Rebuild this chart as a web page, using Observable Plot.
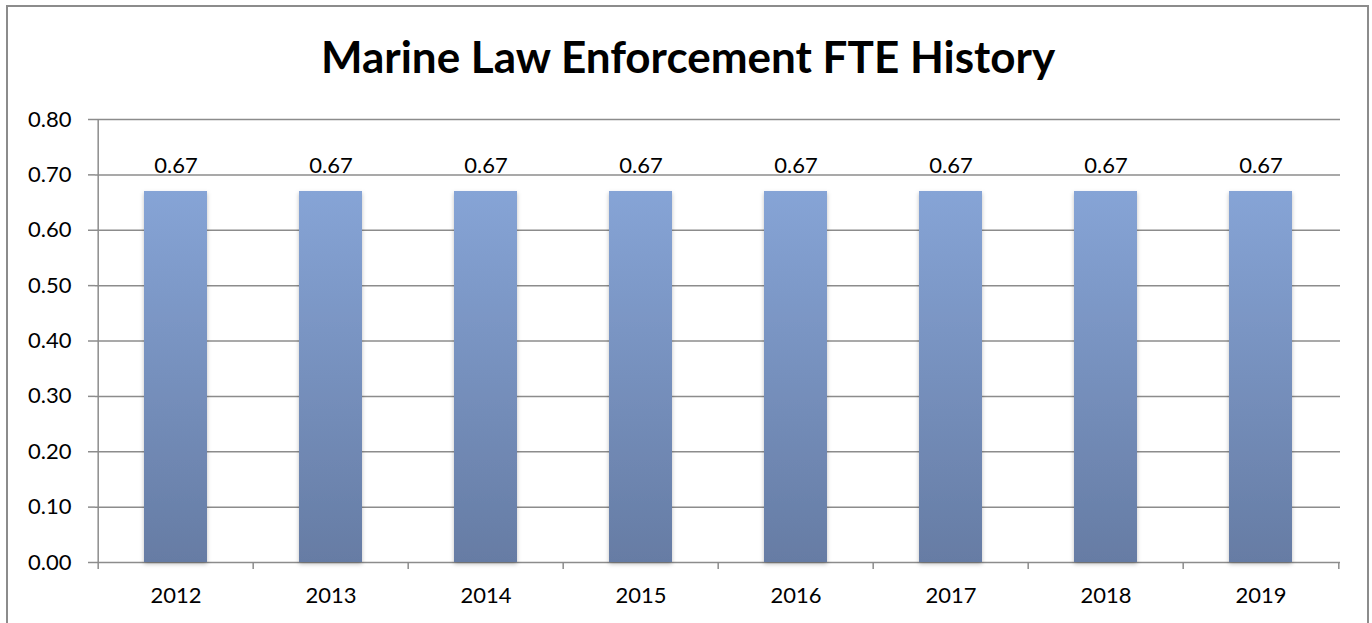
<!DOCTYPE html>
<html>
<head>
<meta charset="utf-8">
<script src="https://cdn.jsdelivr.net/npm/d3@7"></script>
<script src="https://cdn.jsdelivr.net/npm/@observablehq/plot@0.6"></script>
<style>
  html, body { margin: 0; padding: 0; background: #fff; overflow: hidden; }
  body { width: 1372px; height: 623px; position: relative; font-family: Lato, "Open Sans", sans-serif; }
  #frame { position: absolute; left: 6px; top: 5px; width: 1363px; height: 640px; border: 2px solid #8c8c8c; box-sizing: border-box; }
  #title { position: absolute; left: 0; width: 1376px; top: 28px; text-align: center; font-size: 44px; font-weight: bold; color: #000; line-height: 56px; }
  #chart { position: absolute; left: 0; top: 100px; }
</style>
</head>
<body>
<div id="frame"></div>
<div id="title">Marine Law Enforcement FTE History</div>
<div id="chart"></div>
<script>
const years = ["2012", "2013", "2014", "2015", "2016", "2017", "2018", "2019"];
const fte = [0.67, 0.67, 0.67, 0.67, 0.67, 0.67, 0.67, 0.67];
const yTicks = [0, 0.1, 0.2, 0.3, 0.4, 0.5, 0.6, 0.7, 0.8];

const data = years.map((y, i) => ({year: y, value: fte[i]}));

const W = 1372, ML = 95, MR = 32, MT = 19, MB = 50, H = 512;
const step = (W - ML - MR) / years.length;
const grid = "#8c8c8c";
const FS = 22;

const chart = Plot.plot({
  width: W,
  height: H,
  marginLeft: ML,
  marginRight: MR,
  marginTop: MT,
  marginBottom: MB,
  style: {fontFamily: "Lato, 'Open Sans', sans-serif", fontSize: FS + "px", color: "#000", background: "transparent"},
  x: {domain: years, paddingInner: 0.595, paddingOuter: 0.2975, label: null},
  y: {domain: [0, 0.8], label: null},
  marks: [
    Plot.ruleY(yTicks, {stroke: grid, strokeWidth: 1.5, strokeOpacity: 1}),
    Plot.barY(data, {x: "year", y: "value", fill: "url(#barGrad)", className: "bars"}),
    Plot.text(data, {x: "year", y: "value", text: d => d.value.toFixed(2), dy: -18, lineAnchor: "bottom", fill: "#000", fontSize: FS}),
    Plot.axisY({ticks: yTicks, tickFormat: d => d.toFixed(2), tickSize: 7, tickPadding: 17, stroke: grid, strokeWidth: 1.5, fontSize: FS, label: null}),
    Plot.axisX({tickSize: 0, tickPadding: 25, fontSize: FS, label: null}),
    Plot.axisX({tickSize: 7, text: null, dx: -step / 2, stroke: grid, strokeWidth: 1.5, label: null}),
    Plot.axisX({ticks: ["2019"], tickSize: 7, text: null, dx: step / 2, stroke: grid, strokeWidth: 1.5, label: null}),
    Plot.ruleX(["2012"], {x: d => d, dx: -step / 2, y1: 0, y2: 0.8, stroke: grid, strokeWidth: 1.5})
  ]
});

const svg = d3.select(chart);
const defs = svg.insert("defs", ":first-child");
const g = defs.append("linearGradient").attr("id", "barGrad").attr("x1", 0).attr("y1", 0).attr("x2", 0).attr("y2", 1);
g.append("stop").attr("offset", "0%").attr("stop-color", "#86a4d6");
g.append("stop").attr("offset", "100%").attr("stop-color", "#667ca4");
const f = defs.append("filter").attr("id", "barShadow").attr("x", "-10%").attr("y", "-5%").attr("width", "120%").attr("height", "115%");
f.append("feDropShadow").attr("dx", 0).attr("dy", 2).attr("stdDeviation", 2).attr("flood-color", "#000").attr("flood-opacity", 0.25);
svg.selectAll("g.bars rect, g[aria-label='bar'] rect").attr("filter", "url(#barShadow)");

document.getElementById("chart").appendChild(chart);
</script>
</body>
</html>
